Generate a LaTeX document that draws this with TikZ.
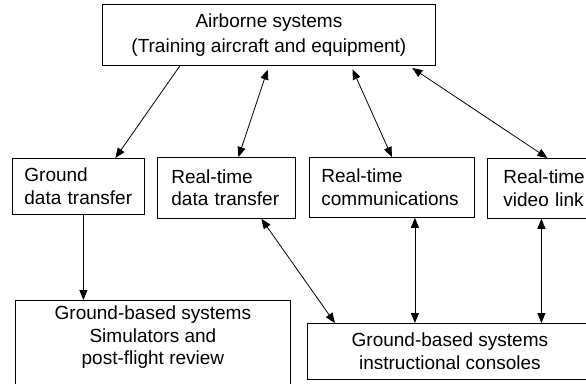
\documentclass[tikz,border=0pt]{standalone}
\usepackage{fontspec}
\setmainfont{Liberation Sans}
\usetikzlibrary{arrows.meta}

\begin{document}
\begin{tikzpicture}[x=1pt, y=-1pt,
  every node/.style={font=\fontsize{19}{22.5}\selectfont},
  sysbox/.style={draw, line width=0.8pt, inner xsep=12pt, inner ysep=0pt, anchor=north west},
  link/.style={line width=0.8pt, -{Triangle[length=10pt,width=8pt]}},
  duplex/.style={line width=0.8pt, {Triangle[length=10pt,width=8pt]}-{Triangle[length=10pt,width=8pt]}}]
\useasboundingbox (0,0) rectangle (586,383);

% airborne side
\node[sysbox, minimum width=333pt, minimum height=61pt, align=center, inner xsep=0pt] (air) at (102,4) {Airborne systems\\[2pt](Training aircraft and equipment)};

% links
\node[sysbox, text width=108pt, minimum height=56pt, align=left, inner xsep=12pt] (gdt) at (12,158) {Ground\\data transfer};
\node[sysbox, text width=110pt, minimum height=61pt, align=left, inner xsep=14pt] (rtdt) at (157,157) {Real-time\\data transfer};
\node[sysbox, text width=141pt, minimum height=60pt, align=left] (comm) at (309,157) {Real-time\\communications};
\node[sysbox, text width=84pt, minimum height=60pt, align=left, inner xsep=16pt] (video) at (487,158) {Real-time\\video link};

% ground side
\node[sysbox, minimum width=275pt, minimum height=100pt] (sim) at (15,300) {};
\node[anchor=north, align=center, inner sep=0pt] (simtxt) at ([yshift=-6pt]sim.north) {Ground-based systems\\Simulators and\\post-flight review};
\node[sysbox, minimum width=285pt, minimum height=56pt, align=center] (cons) at (307,323) {Ground-based systems\\instructional consoles};

% arrows
\draw[link] ([xshift=-89pt]air.south) -- ([xshift=37pt]gdt.north);
\draw[duplex, shorten <=4pt] (air.south) -- ([xshift=12pt]rtdt.north);
\draw[duplex, shorten <=4pt] ([xshift=82pt]air.south) -- (comm.north);
\draw[duplex, shorten <=4pt] ([xshift=140pt]air.south) -- ([xshift=2pt]video.north);
\draw[link] ([xshift=5pt]gdt.south) -- ([xshift=5pt]gdt.south |- sim.north);
\draw[duplex] ([xshift=35pt]rtdt.south) -- ([xshift=-115pt]cons.north);
\draw[duplex] ([xshift=23pt]comm.south) -- ([xshift=23pt]comm.south |- cons.north);
\draw[duplex] ([xshift=-4pt]video.south) -- ([xshift=-4pt]video.south |- cons.north);
\end{tikzpicture}
\end{document}
